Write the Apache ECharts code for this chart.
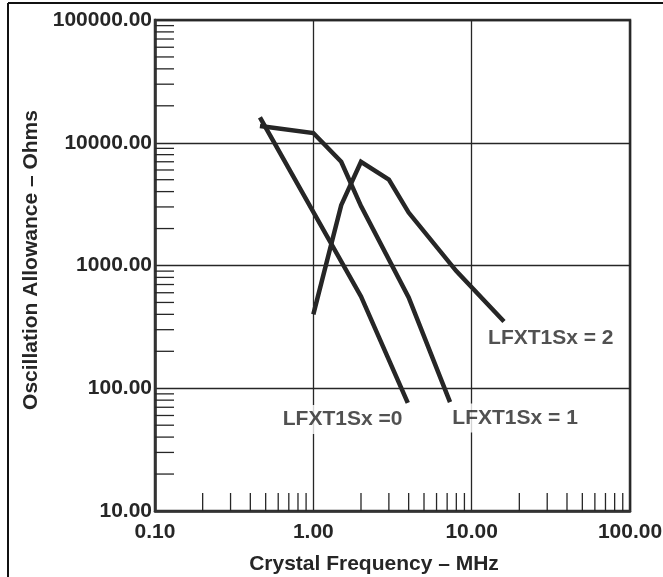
<!DOCTYPE html>
<html><head><meta charset="utf-8">
<script src="https://cdn.jsdelivr.net/npm/echarts@6/dist/echarts.min.js"></script>
<style>html,body{margin:0;padding:0;background:#fff}#c{width:663px;height:577px}</style>
</head><body><div id="c"></div>
<script>
// Curve data (Crystal Frequency MHz, Oscillation Allowance Ohms)
const lfxt0 = [[0.46, 16100], [2, 560], [3.95, 76]];
const lfxt1 = [[0.46, 13700], [1, 12000], [1.5, 7000], [2, 3050], [4, 550], [7.3, 77]];
const lfxt2 = [[1, 400], [1.5, 3100], [2, 7000], [3, 5000], [4, 2700], [8, 900], [16, 350]];
const curveNames = ['LFXT1Sx =0', 'LFXT1Sx = 1', 'LFXT1Sx = 2'];
// label anchor positions in data coordinates
const labelPos = [[1.53, 55.6], [18.8, 57.2], [31.6, 257]];
// minor tick values
const xMinor = [0.2,0.3,0.4,0.5,0.6,0.7,0.8,0.9, 2,3,4,5,6,7,8,9, 20,30,40,50,60,70,80,90];
const yMinor = [20,30,40,50,60,70,80,90, 200,300,400,500,600,700,800,900,
                2000,3000,4000,5000,6000,7000,8000,9000, 20000,30000,40000,50000,60000,70000,80000,90000];
const xName = 'Crystal Frequency – MHz';
const yName = 'Oscillation Allowance – Ohms';

const INK = '#262626';
const FONT = 'Liberation Sans';
const FS = 21;
const chart = echarts.init(document.getElementById('c'), null, {renderer: 'canvas'});

function tickSeries(vals, horiz) {
  return {
    type: 'custom',
    silent: true,
    z: 3,
    data: vals.map(v => horiz ? [0.1, v] : [v, 10]),
    renderItem: function (params, api) {
      const p = api.coord([api.value(0), api.value(1)]);
      const shape = horiz
        ? {x1: p[0], y1: p[1], x2: p[0] + 19, y2: p[1]}
        : {x1: p[0], y1: p[1], x2: p[0], y2: p[1] - 18};
      return {type: 'line', shape: shape, style: {stroke: INK, lineWidth: 1.3}};
    }
  };
}

function curve(data) {
  return {
    type: 'line', data: data, showSymbol: false, symbol: 'none', z: 4,
    lineStyle: {color: INK, width: 4.5, join: 'miter'}, animation: false
  };
}

chart.setOption({
  animation: false,
  backgroundColor: '#fff',
  grid: {left: 155, right: 33, top: 20, bottom: 66, show: true, borderColor: '#333', borderWidth: 2.5, outerBoundsMode: 'none', containLabel: false},
  xAxis: {
    type: 'log', logBase: 10, min: 0.1, max: 100,
    name: xName, nameLocation: 'middle', nameGap: 43,
    nameTextStyle: {fontFamily: FONT, fontWeight: 'bold', fontSize: FS, color: INK, padding: [0, 37, 0, 0]},
    axisLine: {show: true, lineStyle: {color: '#333', width: 2.5}},
    axisTick: {show: false},
    axisLabel: {fontFamily: FONT, fontWeight: 'bold', fontSize: FS, color: INK, margin: 11,
      formatter: v => Number(v).toFixed(2), showMinLabel: true, showMaxLabel: true},
    splitLine: {show: true, lineStyle: {color: INK, width: 1.3}}
  },
  yAxis: {
    type: 'log', logBase: 10, min: 10, max: 100000,
    name: yName, nameLocation: 'middle', nameGap: 109,
    nameTextStyle: {fontFamily: FONT, fontWeight: 'bold', fontSize: FS, color: INK, padding: [0, 0, 0, 11]},
    axisLine: {show: true, lineStyle: {color: '#333', width: 2.5}},
    axisTick: {show: false},
    axisLabel: {fontFamily: FONT, fontWeight: 'bold', fontSize: FS, color: INK, margin: 3,
      formatter: v => Number(v).toFixed(2), showMinLabel: true, showMaxLabel: true},
    splitLine: {show: true, lineStyle: {color: INK, width: 1.3}}
  },
  graphic: [
    {type: 'line', shape: {x1: 8, y1: 3, x2: 663, y2: 3}, style: {stroke: '#111', lineWidth: 2}},
    {type: 'line', shape: {x1: 8, y1: 3, x2: 8, y2: 577}, style: {stroke: '#111', lineWidth: 2}}
  ],
  series: [
    tickSeries(xMinor, false),
    tickSeries(yMinor, true),
    curve(lfxt0), curve(lfxt1), curve(lfxt2),
    {
      type: 'scatter', symbolSize: 1, itemStyle: {color: 'rgba(0,0,0,0)'}, z: 5,
      data: labelPos.map((p, i) => [p[0], p[1], curveNames[i]]),
      label: {show: true, position: 'inside', formatter: p => p.data[2],
        fontFamily: FONT, fontWeight: 'bold', fontSize: FS, color: INK,
        backgroundColor: '#fff', padding: [4, 5]}
    }
  ]
});
</script></body></html>
